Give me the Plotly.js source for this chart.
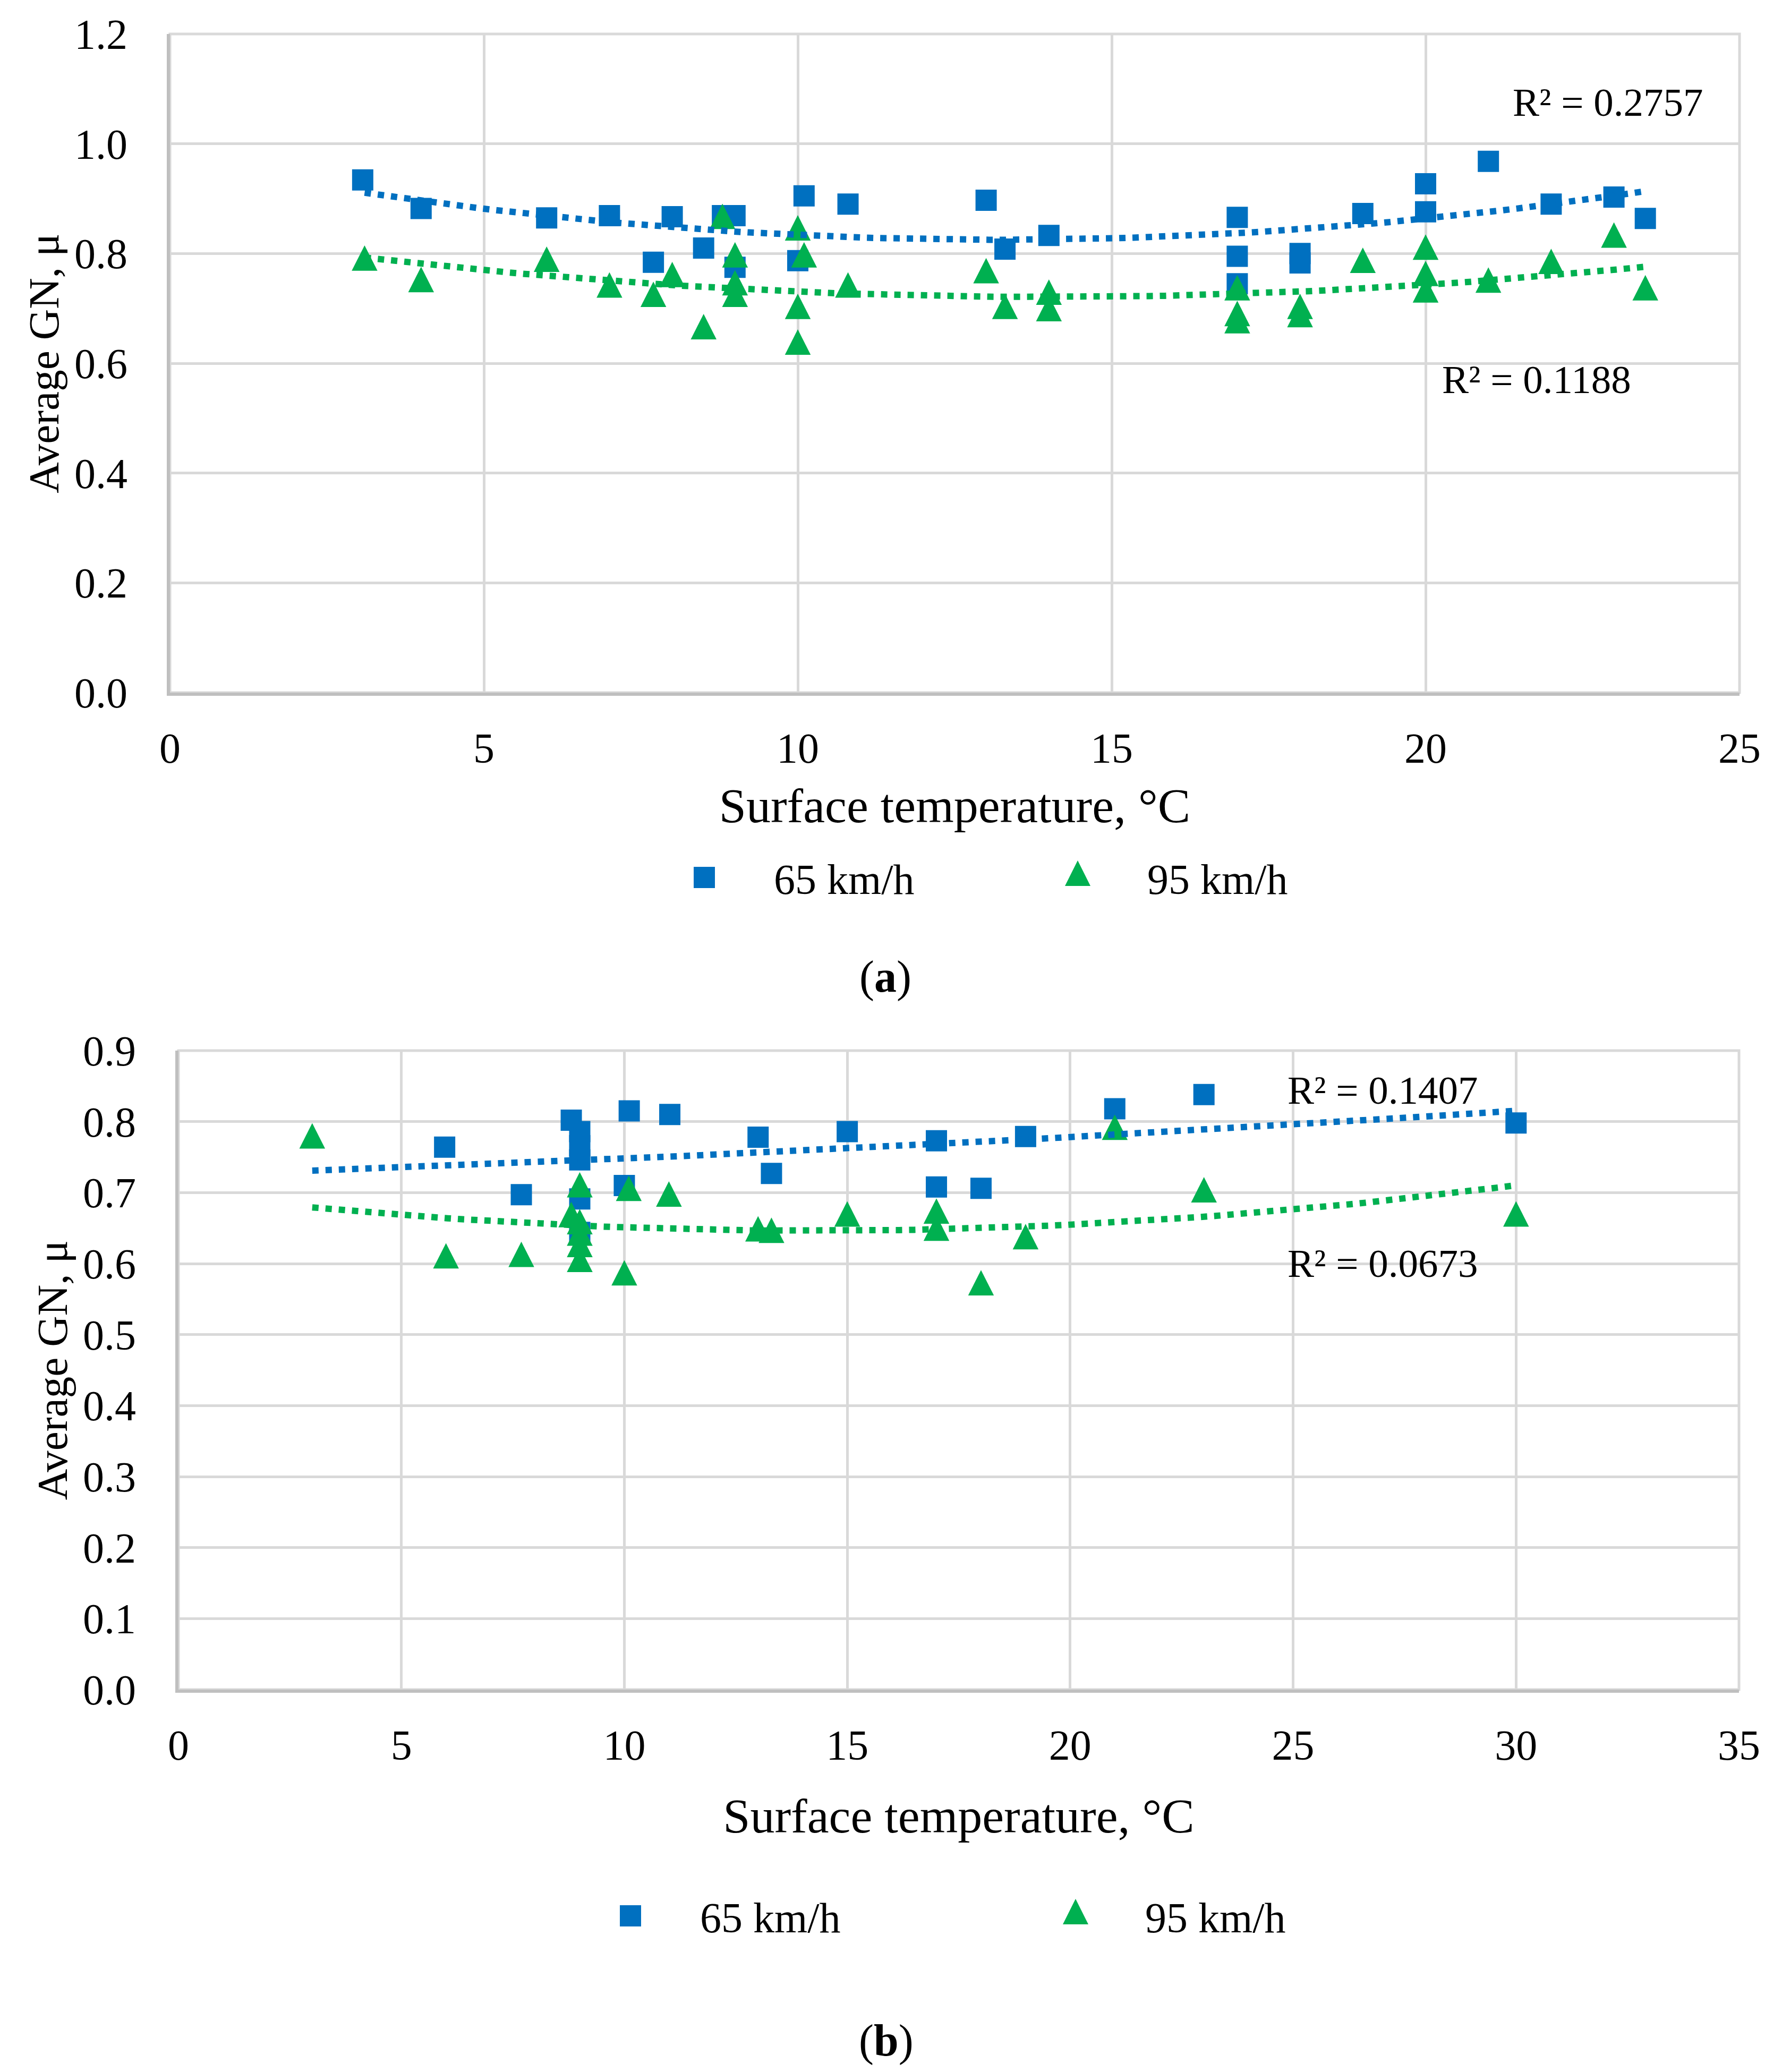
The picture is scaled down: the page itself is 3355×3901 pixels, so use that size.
<!DOCTYPE html>
<html>
<head>
<meta charset="utf-8">
<script src="https://cdn.plot.ly/plotly-3.0.1.min.js"></script>
<style>
  html, body { margin: 0; padding: 0; background: #fff; }
  #chart { width: 3355px; height: 3901px; }
</style>
</head>
<body>
<div id="chart"></div>
<script>
// (a) data
var tempA65 = [3.07, 4.0, 6.0, 7.0, 8.0, 7.7, 8.5, 8.8, 9.0, 9.0, 10.0, 10.1, 10.8, 13.0, 13.3, 14.0, 17.0, 17.0, 17.0, 18.0, 18.0, 19.0, 20.0, 20.0, 21.0, 22.0, 23.0, 23.5];
var gnA65   = [0.934, 0.882, 0.865, 0.869, 0.867, 0.784, 0.81, 0.869, 0.869, 0.775, 0.787, 0.905, 0.89, 0.897, 0.808, 0.833, 0.866, 0.795, 0.745, 0.80, 0.783, 0.873, 0.927, 0.876, 0.968, 0.89, 0.903, 0.864];
var tempA95 = [3.1, 4.0, 6.0, 7.0, 7.7, 8.0, 8.5, 8.8, 9.0, 9.0, 9.0, 10.0, 10.1, 10.0, 10.0, 10.8, 13.0, 13.3, 14.0, 14.0, 17.0, 17.0, 17.0, 18.0, 18.0, 19.0, 20.0, 20.0, 20.0, 21.0, 22.0, 23.0, 23.5];
var gnA95   = [0.784, 0.745, 0.782, 0.735, 0.718, 0.754, 0.659, 0.86, 0.79, 0.739, 0.718, 0.839, 0.79, 0.696, 0.631, 0.735, 0.761, 0.696, 0.722, 0.692, 0.73, 0.683, 0.67, 0.696, 0.681, 0.78, 0.804, 0.756, 0.726, 0.744, 0.778, 0.826, 0.73];

// (b) data
var tempB65 = [5.97, 7.69, 8.81, 9.0, 9.0, 9.0, 9.0, 9.0, 10.0, 10.11, 11.02, 13.0, 13.3, 15.0, 17.0, 17.0, 18.0, 19.0, 21.0, 23.0, 30.0];
var gnB65   = [0.764, 0.697, 0.802, 0.786, 0.766, 0.746, 0.691, 0.644, 0.710, 0.815, 0.810, 0.778, 0.727, 0.786, 0.773, 0.708, 0.706, 0.779, 0.818, 0.838, 0.798];
var tempB95 = [3.0, 6.0, 7.69, 8.81, 9.0, 9.0, 9.0, 9.0, 9.0, 10.0, 10.1, 11.0, 13.0, 13.3, 15.0, 17.0, 17.0, 18.0, 19.0, 21.0, 23.0, 30.0];
var gnB95   = [0.774, 0.605, 0.607, 0.663, 0.705, 0.653, 0.637, 0.621, 0.600, 0.581, 0.700, 0.692, 0.643, 0.641, 0.664, 0.668, 0.644, 0.567, 0.632, 0.786, 0.698, 0.664];

// trendline spans (x from, x to) and labels
var trendSpanA = [3.1, 23.5];
var trendSpanB = [3.0, 30.0];
var r2LabelsA = ['R² = 0.2757', 'R² = 0.1188'];
var r2LabelsB = ['R² = 0.1407', 'R² = 0.0673'];
var seriesNames = ['65 km/h', '95 km/h'];
var captions = ['(<b>a</b>)', '(<b>b</b>)'];

var BLUE = '#0070C0', GREEN = '#00B050';
var FONT = 'Liberation Serif, Times New Roman, serif';

// 2nd order polynomial trendline, least squares (like Excel)
function quadFit(xs, ys) {
  var s = [0, 0, 0, 0, 0], t = [0, 0, 0];
  for (var i = 0; i < xs.length; i++) {
    var p = 1;
    for (var k = 0; k < 5; k++) {
      s[k] += p;
      if (k < 3) t[k] += p * ys[i];
      p *= xs[i];
    }
  }
  var m = [[s[0], s[1], s[2], t[0]], [s[1], s[2], s[3], t[1]], [s[2], s[3], s[4], t[2]]];
  for (var c = 0; c < 3; c++) {
    for (var r = c + 1; r < 3; r++) {
      var f = m[r][c] / m[c][c];
      for (var j = c; j < 4; j++) m[r][j] -= f * m[c][j];
    }
  }
  var coef = [0, 0, 0];
  for (var r2 = 2; r2 >= 0; r2--) {
    var v = m[r2][3];
    for (var j2 = r2 + 1; j2 < 3; j2++) v -= m[r2][j2] * coef[j2];
    coef[r2] = v / m[r2][r2];
  }
  return coef;
}

function trendTrace(xs, ys, span, color, xa, ya) {
  var c = quadFit(xs, ys);
  var tx = [], ty = [];
  for (var i = 0; i <= 80; i++) {
    var x = span[0] + (span[1] - span[0]) * i / 80;
    tx.push(x);
    ty.push(c[0] + c[1] * x + c[2] * x * x);
  }
  return {
    x: tx, y: ty, xaxis: xa, yaxis: ya, mode: 'lines', showlegend: false, hoverinfo: 'skip',
    line: { color: color, width: 12, dash: '12px,13px' }
  };
}

function pts(xs, ys, name, color, symbol, size, xa, ya, legend) {
  return {
    x: xs, y: ys, name: name, xaxis: xa, yaxis: ya, legend: legend,
    mode: 'markers', type: 'scatter',
    marker: { color: color, symbol: symbol, size: size, line: { width: 0 } }
  };
}

var data = [
  pts(tempA65, gnA65, seriesNames[0], BLUE, 'square', 40, 'x', 'y', 'legend'),
  pts(tempA95, gnA95, seriesNames[1], GREEN, 'triangle-up', 42, 'x', 'y', 'legend'),
  trendTrace(tempA65, gnA65, trendSpanA, BLUE, 'x', 'y'),
  trendTrace(tempA95, gnA95, trendSpanA, GREEN, 'x', 'y'),
  pts(tempB65, gnB65, seriesNames[0], BLUE, 'square', 40, 'x2', 'y2', 'legend2'),
  pts(tempB95, gnB95, seriesNames[1], GREEN, 'triangle-up', 42, 'x2', 'y2', 'legend2'),
  trendTrace(tempB65, gnB65, trendSpanB, BLUE, 'x2', 'y2'),
  trendTrace(tempB95, gnB95, trendSpanB, GREEN, 'x2', 'y2')
];

var W = 3355, H = 3901;
function px(x) { return x / W; }
function py(y) { return 1 - y / H; }

var tickFont = { family: FONT, size: 80, color: '#000' };

function xAxis(domain, range, anchor, standoff) {
  return {
    domain: domain, range: range, anchor: anchor, dtick: 5, tick0: 0,
    showgrid: true, gridcolor: '#d9d9d9', gridwidth: 5, zeroline: false,
    showline: true, linecolor: '#bfbfbf', linewidth: 6, ticks: '',
    ticklabelstandoff: 30, tickfont: tickFont,
    title: { text: 'Surface temperature, °C', font: { family: FONT, size: 92, color: '#000' }, standoff: standoff },
    fixedrange: true
  };
}
function yAxis(domain, range, dtick, anchor) {
  return {
    domain: domain, range: range, anchor: anchor, dtick: dtick, tick0: 0, tickformat: '.1f',
    showgrid: true, gridcolor: '#d9d9d9', gridwidth: 5, zeroline: false,
    showline: true, linecolor: '#bfbfbf', linewidth: 6, ticks: '',
    ticklabelstandoff: 58, tickfont: tickFont,
    title: { text: 'Average GN, μ', font: { family: FONT, size: 81, color: '#000' }, standoff: 5 },
    fixedrange: true
  };
}

var legendFont = { family: FONT, size: 80, color: '#000' };
var r2Font = { family: FONT, size: 75, color: '#000' };

var layout = {
  width: W, height: H,
  margin: { l: 0, r: 0, t: 0, b: 0 },
  paper_bgcolor: '#fff', plot_bgcolor: '#fff',
  font: { family: FONT, color: '#000' },
  xaxis: xAxis([px(320), px(3275)], [0, 25], 'y', 34),
  yaxis: yAxis([py(1304), py(64)], [0, 1.2], 0.2, 'x'),
  xaxis2: xAxis([px(336), px(3274)], [0, 35], 'y2', 59),
  yaxis2: yAxis([py(3181), py(1978)], [0, 0.9], 0.1, 'x2'),
  legend: {
    orientation: 'h', x: px(1195), xanchor: 'left', y: py(1652), yanchor: 'middle',
    font: legendFont, itemwidth: 252, entrywidth: 436, entrywidthmode: 'pixels',
    bgcolor: 'rgba(0,0,0,0)', borderwidth: 0
  },
  legend2: {
    orientation: 'h', x: px(1056), xanchor: 'left', y: py(3607), yanchor: 'middle',
    font: legendFont, itemwidth: 252, entrywidth: 571, entrywidthmode: 'pixels',
    bgcolor: 'rgba(0,0,0,0)', borderwidth: 0
  },
  shapes: [
    { type: 'rect', xref: 'x domain', yref: 'y domain', x0: 0, x1: 1, y0: 0, y1: 1,
      line: { color: '#d9d9d9', width: 5 }, layer: 'below' },
    { type: 'rect', xref: 'x2 domain', yref: 'y2 domain', x0: 0, x1: 1, y0: 0, y1: 1,
      line: { color: '#d9d9d9', width: 5 }, layer: 'below' }
  ],
  annotations: [
    { text: r2LabelsA[0], xref: 'paper', yref: 'paper', x: px(2846), y: py(192), xanchor: 'left', yanchor: 'middle', showarrow: false, font: r2Font },
    { text: r2LabelsA[1], xref: 'paper', yref: 'paper', x: px(2713), y: py(714), xanchor: 'left', yanchor: 'middle', showarrow: false, font: r2Font },
    { text: r2LabelsB[0], xref: 'paper', yref: 'paper', x: px(2422), y: py(2052), xanchor: 'left', yanchor: 'middle', showarrow: false, font: r2Font },
    { text: r2LabelsB[1], xref: 'paper', yref: 'paper', x: px(2422), y: py(2378), xanchor: 'left', yanchor: 'middle', showarrow: false, font: r2Font },
    { text: captions[0], xref: 'paper', yref: 'paper', x: px(1667), y: py(1839), xanchor: 'center', yanchor: 'middle', showarrow: false, font: { family: FONT, size: 84, color: '#000' } },
    { text: captions[1], xref: 'paper', yref: 'paper', x: px(1668), y: py(3842), xanchor: 'center', yanchor: 'middle', showarrow: false, font: { family: FONT, size: 84, color: '#000' } }
  ]
};

function isTriangle(p) {
  var d = p.getAttribute('d') || '';
  return d.indexOf('L') > -1;
}

Plotly.newPlot('chart', data, layout, { staticPlot: true, displayModeBar: false }).then(function (gd) {
  // plotly's triangle-up is squat, Excel's is about as tall as it is wide
  gd.querySelectorAll('.scatterlayer path.point').forEach(function (p) {
    if (isTriangle(p)) p.setAttribute('transform', (p.getAttribute('transform') || '') + ' scale(1,1.52)');
  });
  // legend symbols are capped at 16px by plotly, blow them up to match the plot markers
  gd.querySelectorAll('.legendpoints path.scatterpts').forEach(function (p) {
    var tr = p.getAttribute('transform') || '';
    p.setAttribute('transform', tr + (isTriangle(p) ? ' scale(2.6,4.0)' : ' scale(2.5)'));
  });
});
</script>
</body>
</html>
